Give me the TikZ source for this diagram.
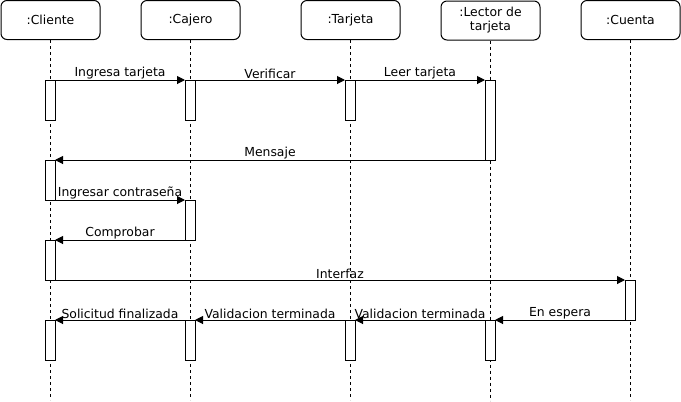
\documentclass[tikz,border=0pt]{standalone}
\usepackage{fontspec}
\setmainfont{DejaVu Sans}
\usetikzlibrary{arrows.meta}

\tikzset{
  every picture/.style={line width=0.75pt},
  obj/.style={draw, rounded corners=4.5pt, minimum width=74.25pt,
    minimum height=29.25pt, align=center, inner sep=1pt,
    font=\fontsize{9.3}{10.5}\selectfont},
  act/.style={draw, fill=white, minimum width=7.5pt, inner sep=0pt,
    outer sep=0pt, anchor=north},
  life/.style={dash pattern=on 2.25pt off 2.25pt},
  msg/.style={-{Triangle[length=6pt,width=6pt]}},
  lbl/.style={above, inner sep=0.5pt, font=\fontsize{9.3}{11}\selectfont}
}

\begin{document}
\begin{tikzpicture}[x=0.75pt, y=-0.75pt]
\useasboundingbox (0,0) rectangle (681,401);
% objects
\node (cliente) [obj] at (50.5,20) {:Cliente};
\node (cajero) [obj] at (190.5,20) {:Cajero};
\node (tarjeta) [obj] at (350.5,20) {:Tarjeta};
\node (lector) [obj] at (490.5,20.5) {:Lector de\\tarjeta};
\node (cuenta) [obj] at (630.5,20) {:Cuenta};
% lifelines
\draw[life] (cliente.south) -- ++(0,360);
\draw[life] (cajero.south) -- ++(0,360);
\draw[life] (tarjeta.south) -- ++(0,360);
\draw[life] (lector.south) -- ++(0,360);
\draw[life] (cuenta.south) -- ++(0,360);
% activations
\node (cli1) [act, minimum height=30pt] at (50,80) {};
\node (caj1) [act, minimum height=30pt] at (190,80) {};
\node (tar1) [act, minimum height=30pt] at (350,80) {};
\node (lec1) [act, minimum height=60pt] at (490,80) {};
\node (cli2) [act, minimum height=30pt] at (50,160) {};
\node (caj2) [act, minimum height=30pt] at (190,200) {};
\node (cli3) [act, minimum height=30pt] at (50,240) {};
\node (cue1) [act, minimum height=30pt] at (630,280) {};
\node (cli4) [act, minimum height=30pt] at (50,320) {};
\node (caj3) [act, minimum height=30pt] at (190,320) {};
\node (tar2) [act, minimum height=30pt] at (350,320) {};
\node (lec2) [act, minimum height=30pt] at (490,320) {};
% messages
\draw[msg] (cli1.north east) -- node[lbl] {Ingresa tarjeta} (caj1.north west);
\draw[msg] (caj1.north east) -- node[lbl] {Verificar} (tar1.north west);
\draw[msg] (tar1.north east) -- node[lbl] {Leer tarjeta} (lec1.north west);
\draw[msg] (lec1.south west) -- node[lbl] {Mensaje} (cli2.north east);
\draw[msg] (cli2.south east) -- node[lbl] {Ingresar contraseña} (caj2.north west);
\draw[msg] (caj2.south west) -- node[lbl] {Comprobar} (cli3.north east);
\draw[msg] (cli3.south east) -- node[lbl] {Interfaz} (cue1.north west);
\draw[msg] (cue1.south west) -- node[lbl] {En espera} (lec2.north east);
\draw[msg] (lec2.north west) -- node[lbl] {Validacion terminada} (tar2.north east);
\draw[msg] (tar2.north west) -- node[lbl] {Validacion terminada} (caj3.north east);
\draw[msg] (caj3.north west) -- node[lbl] {Solicitud finalizada} (cli4.north east);
\end{tikzpicture}
\end{document}
